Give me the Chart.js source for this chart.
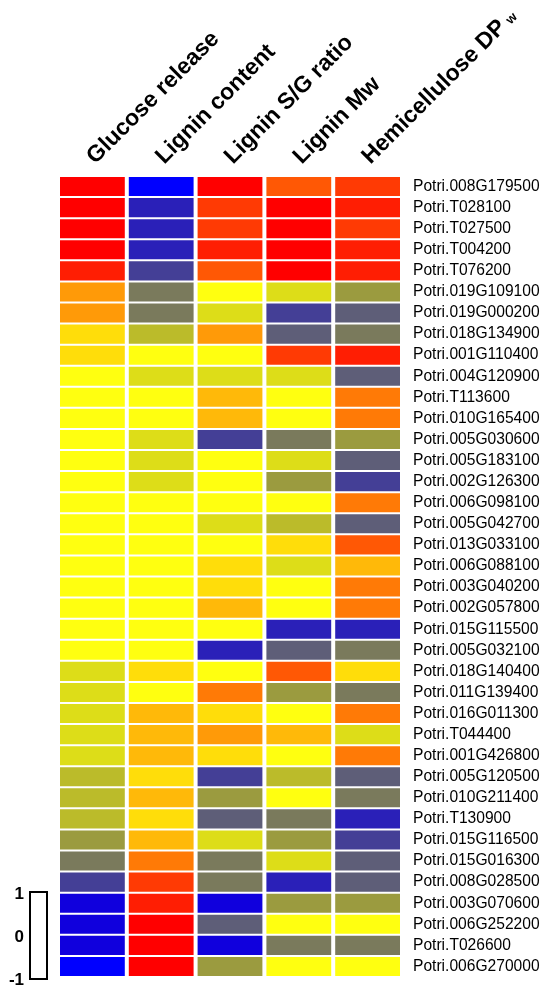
<!DOCTYPE html>
<html>
<head>
<meta charset="utf-8">
<script src="https://cdn.jsdelivr.net/npm/chart.js@4/dist/chart.umd.min.js"></script>
<style>
  html, body { margin: 0; padding: 0; background: #ffffff; }
  #wrap { position: relative; width: 542px; height: 985px; }
</style>
</head>
<body>
<div id="wrap"><canvas id="heat"></canvas></div>
<script>
// Gene models (rows, top to bottom)
const genes = [
  'Potri.008G179500', 'Potri.T028100', 'Potri.T027500', 'Potri.T004200', 'Potri.T076200',
  'Potri.019G109100', 'Potri.019G000200', 'Potri.018G134900', 'Potri.001G110400', 'Potri.004G120900',
  'Potri.T113600', 'Potri.010G165400', 'Potri.005G030600', 'Potri.005G183100', 'Potri.002G126300',
  'Potri.006G098100', 'Potri.005G042700', 'Potri.013G033100', 'Potri.006G088100', 'Potri.003G040200',
  'Potri.002G057800', 'Potri.015G115500', 'Potri.005G032100', 'Potri.018G140400', 'Potri.011G139400',
  'Potri.016G011300', 'Potri.T044400', 'Potri.001G426800', 'Potri.005G120500', 'Potri.010G211400',
  'Potri.T130900', 'Potri.015G116500', 'Potri.015G016300', 'Potri.008G028500', 'Potri.003G070600',
  'Potri.006G252200', 'Potri.T026600', 'Potri.006G270000'
];

// Traits (columns, left to right)
const traits = ['Glucose release', 'Lignin content', 'Lignin S/G ratio', 'Lignin Mw', 'Hemicellulose DP'];
const lastTraitSubscript = 'w';

// Scaled association per gene, one array per trait (-1 .. 1)
const glucoseRelease = [
  1, 1, 1, 1, 0.88, 0.38, 0.38, 0.12, 0.12, 0,
  0, 0, 0, 0, 0, 0, 0, 0, 0, 0,
  0, 0, 0, -0.12, -0.12, -0.12, -0.12, -0.12, -0.25, -0.25,
  -0.25, -0.38, -0.5, -0.75, -0.95, -0.95, -0.95, -1
];
const ligninContent = [
  -1, -0.88, -0.88, -0.88, -0.75, -0.5, -0.5, -0.25, 0, -0.12,
  0, 0, -0.12, -0.12, -0.12, 0, 0, 0, 0, 0,
  0, 0, 0, 0.12, 0, 0.25, 0.25, 0.25, 0.12, 0.25,
  0.12, 0.25, 0.5, 0.75, 0.88, 1, 1, 1
];
const ligninSG = [
  1, 0.75, 0.75, 0.88, 0.62, 0, -0.12, 0.38, 0, -0.12,
  0.25, 0.25, -0.75, 0, 0, 0, -0.12, 0, 0.12, 0.12,
  0.25, 0, -0.88, 0, 0.5, 0.12, 0.38, 0.12, -0.75, -0.38,
  -0.62, -0.12, -0.5, -0.5, -0.95, -0.62, -0.95, -0.38
];
const ligninMw = [
  0.62, 1, 1, 1, 1, -0.12, -0.75, -0.62, 0.75, -0.12,
  0, 0, -0.5, -0.12, -0.38, 0, -0.25, 0.12, -0.12, 0,
  0, -0.88, -0.62, 0.62, -0.38, 0, 0.25, 0, -0.25, 0,
  -0.5, -0.38, -0.12, -0.88, -0.38, 0, -0.5, 0
];
const hemicelluloseDP = [
  0.75, 0.88, 0.75, 0.88, 0.88, -0.38, -0.62, -0.5, 0.88, -0.62,
  0.5, 0.5, -0.38, -0.62, -0.75, 0.5, -0.62, 0.62, 0.25, 0.5,
  0.5, -0.88, -0.5, 0.12, -0.5, 0.5, -0.12, 0.5, -0.62, -0.5,
  -0.88, -0.75, -0.62, -0.62, -0.38, 0, -0.5, 0
];

// Colour key labels (top, middle, bottom)
const keyTicks = ['1', '0', '-1'];

// Colour ramp: blue (-1) through grey-olive to yellow (0), then orange to red (1)
const colorStops = [
  [-1, '#0000ff'], [-0.95, '#1000dd'], [-0.88, '#2a20b8'], [-0.75, '#443f96'],
  [-0.62, '#5e5e78'], [-0.5, '#7a7a5c'], [-0.38, '#9b9b3f'], [-0.25, '#bbbb2a'],
  [-0.12, '#dddd18'], [0, '#ffff10'], [0.12, '#ffdd0a'], [0.25, '#ffb909'],
  [0.38, '#ff9a08'], [0.5, '#ff7a06'], [0.62, '#ff5805'], [0.75, '#ff3a04'],
  [0.88, '#ff1e03'], [1, '#ff0000']
];

function hexToRgb(h) {
  return [parseInt(h.slice(1, 3), 16), parseInt(h.slice(3, 5), 16), parseInt(h.slice(5, 7), 16)];
}

function heatColor(v) {
  if (v <= colorStops[0][0]) return colorStops[0][1];
  for (let i = 1; i < colorStops.length; i++) {
    const [v1, c1] = colorStops[i];
    if (v <= v1) {
      const [v0, c0] = colorStops[i - 1];
      const t = (v - v0) / (v1 - v0);
      const a = hexToRgb(c0), b = hexToRgb(c1);
      const m = a.map((x, k) => Math.round(x + (b[k] - x) * t));
      return `rgb(${m[0]},${m[1]},${m[2]})`;
    }
  }
  return colorStops[colorStops.length - 1][1];
}

const FONT = '"Liberation Sans", Arial, Helvetica, sans-serif';
const HEADER_SIZE = 23;
const HEADER_PAD = 6;
const HEADER_SHIFT = 18;
const CHART_TOP = 176;
const CHART_LEFT = 58;
const CHART_RIGHT = 402;

const columns = [glucoseRelease, ligninContent, ligninSG, ligninMw, hemicelluloseDP];

// Extra drawing: subscript on the last column title and the colour key bracket
const extras = {
  id: 'extras',
  afterDraw(chart) {
    const ctx = chart.ctx;
    const top = chart.scales.xTop;
    const last = traits.length - 1;
    const item = top.getLabelItems()[last];
    const headFont = `bold ${HEADER_SIZE}px ${FONT}`;
    ctx.save();
    ctx.fillStyle = '#000';
    ctx.font = headFont;
    const w = ctx.measureText(traits[last]).width;
    ctx.translate(item.options.translation[0], item.options.translation[1]);
    ctx.rotate(item.options.rotation);
    ctx.font = `bold 13px ${FONT}`;
    ctx.textAlign = 'left';
    ctx.textBaseline = item.options.textBaseline || 'middle';
    ctx.fillText(lastTraitSubscript, w + 5, item.textOffset + 3);
    ctx.restore();

    // colour key
    ctx.save();
    ctx.strokeStyle = '#000';
    ctx.lineWidth = 2;
    ctx.strokeRect(30, 892, 17, 87);
    ctx.fillStyle = '#000';
    ctx.font = `bold 17px ${FONT}`;
    ctx.textAlign = 'right';
    ctx.textBaseline = 'middle';
    const ys = [894, 937, 980];
    keyTicks.forEach((t, i) => ctx.fillText(t, 24, ys[i]));
    ctx.restore();
  }
};

new Chart(document.getElementById('heat'), {
  type: 'bar',
  data: {
    labels: genes,
    datasets: columns.map((vals, i) => ({
      label: traits[i],
      data: vals.map(() => 1),          // each cell spans one trait column
      backgroundColor: vals.map(heatColor),
      borderColor: '#ffffff',
      borderWidth: { top: 1, bottom: 1, left: 2, right: 2 },
      borderSkipped: false,
      inflateAmount: 0,
      barPercentage: 1,
      categoryPercentage: 1
    }))
  },
  options: {
    indexAxis: 'y',
    responsive: true,
    maintainAspectRatio: false,
    animation: false,
    events: [],
    layout: { padding: { left: CHART_LEFT, top: 0, right: 0, bottom: 8 } },
    plugins: { legend: { display: false }, tooltip: { enabled: false } },
    scales: {
      x: {
        type: 'linear', stacked: true, min: 0, max: traits.length,
        display: false
      },
      xTop: {
        type: 'category', labels: traits, position: 'top', offset: true,
        grid: { display: false, drawTicks: false },
        border: { display: false },
        ticks: {
          autoSkip: false, minRotation: 45, maxRotation: 45,
          padding: HEADER_PAD, labelOffset: HEADER_SHIFT,
          color: '#000', font: { family: FONT, size: HEADER_SIZE, weight: 'bold' }
        },
        afterFit(scale) {
          scale.height = CHART_TOP;
          scale.paddingLeft = 0; scale.paddingRight = 0;
        }
      },
      y: {
        type: 'category', position: 'right', stacked: true, offset: true,
        grid: { display: false, drawTicks: false },
        border: { display: false },
        ticks: {
          autoSkip: false, padding: 11, color: '#000',
          font: { family: FONT, size: 15.6 }
        },
        afterFit(scale) {
          scale.width = 542 - CHART_RIGHT;
          scale.paddingTop = 0; scale.paddingBottom = 0;
        }
      }
    }
  },
  plugins: [extras]
});
</script>
</body>
</html>
